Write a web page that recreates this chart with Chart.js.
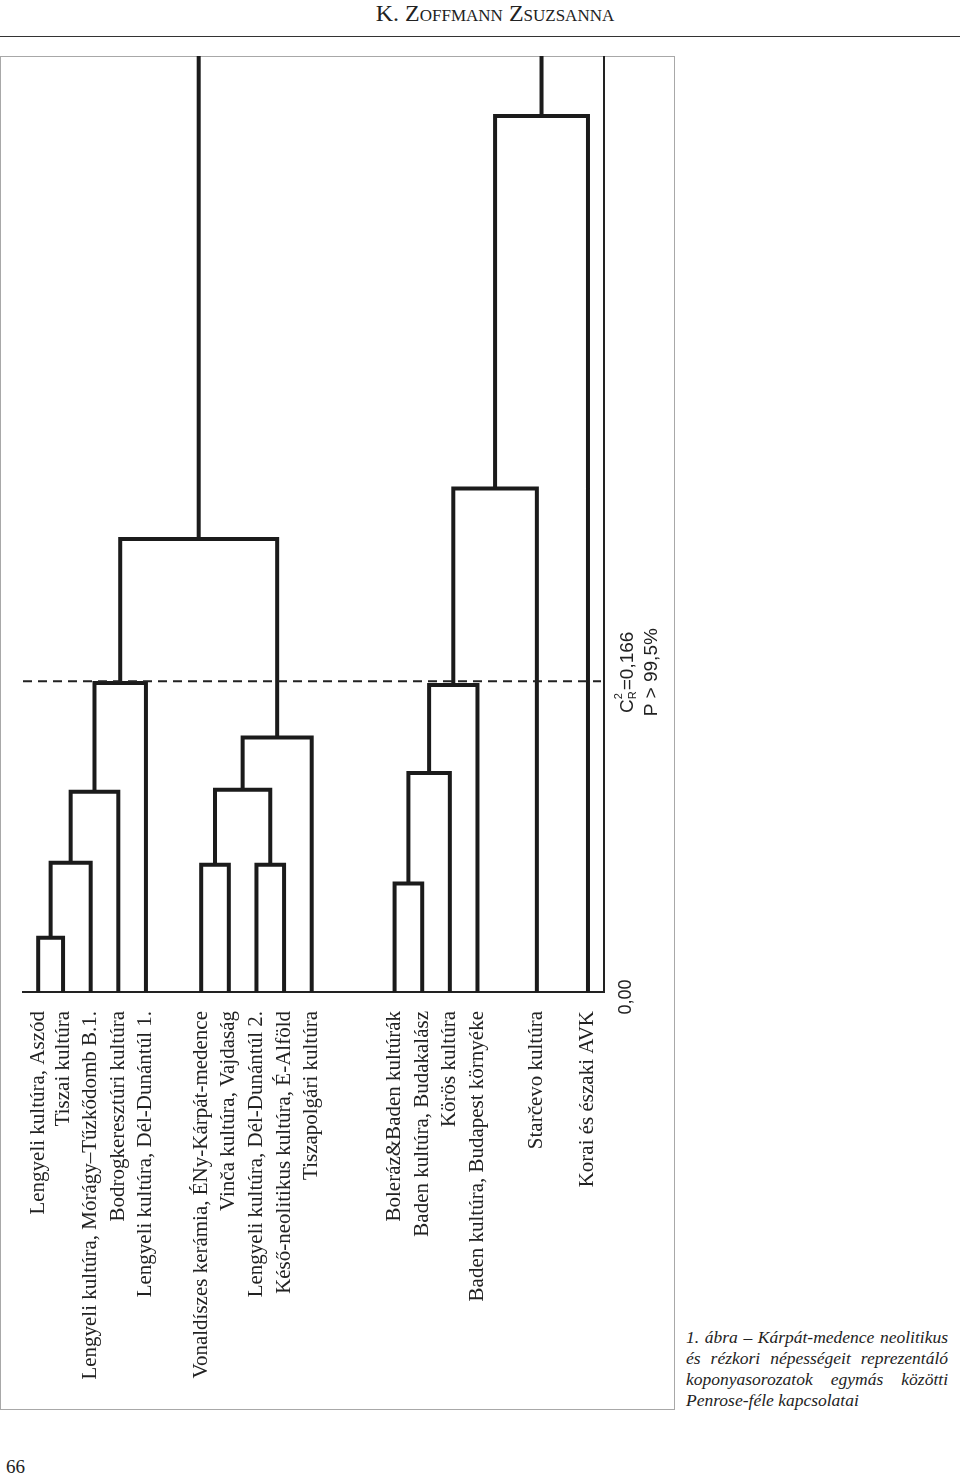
<!DOCTYPE html>
<html>
<head>
<meta charset="utf-8">
<script src="https://cdn.jsdelivr.net/npm/chart.js@4"></script>
<style>
  body { margin: 0; background: #fff; width: 960px; height: 1479px; position: relative; overflow: hidden;
         font-family: "Liberation Serif", serif; color: #222; }
  #header { position: absolute; left: 0; top: 0; width: 990px; text-align: center; font-size: 24px; font-variant: small-caps; }
  #rule { position: absolute; left: 0; top: 36px; width: 960px; border-top: 1.5px solid #333; }
  #frame { position: absolute; left: 0; top: 56px; width: 675px; height: 1354px; box-sizing: border-box; border: 1px solid #a8a8a8; }
  #chartBox { position: absolute; left: 0; top: 56px; width: 675px; height: 1354px; }
  #caption { position: absolute; left: 686px; top: 1327px; width: 262px; font-style: italic; font-size: 17.5px; line-height: 21px; }
  #caption .j { text-align: justify; text-align-last: justify; white-space: nowrap; }
  #pageNo { position: absolute; left: 6px; top: 1456px; font-size: 19px; }
</style>
</head>
<body>
<div id="header">K. Zoffmann Zsuzsanna</div>
<div id="rule"></div>
<div id="frame"></div>
<div id="chartBox"><canvas id="dendro" width="675" height="1354"></canvas></div>
<div id="caption">
  <div class="j">1. ábra – Kárpát-medence neolitikus</div>
  <div class="j">és rézkori népességeit reprezentáló</div>
  <div class="j">koponyasorozatok egymás közötti</div>
  <div>Penrose-féle kapcsolatai</div>
</div>
<div id="pageNo">66</div>
<script>
// leaves, left to right
const leafNames = [
  "Lengyeli kultúra, Aszód",
  "Tiszai kultúra",
  "Lengyeli kultúra, Mórágy–Tűzkődomb B.1.",
  "Bodrogkeresztúri kultúra",
  "Lengyeli kultúra, Dél-Dunántúl 1.",
  "Vonaldíszes kerámia, ÉNy-Kárpát-medence",
  "Vinča kultúra, Vajdaság",
  "Lengyeli kultúra, Dél-Dunántúl 2.",
  "Késő-neolitikus kultúra, É-Alföld",
  "Tiszapolgári kultúra",
  "Boleráz&Baden kultúrák",
  "Baden kultúra, Budakalász",
  "Körös kultúra",
  "Baden kultúra, Budapest környéke",
  "Starčevo kultúra",
  "Korai és északi AVK"
];

// merges: node ids 0-15 are leaves, each merge creates node 16, 17, ...
const mergePairs = [
  [0, 1], [16, 2], [17, 3], [18, 4],
  [5, 6], [7, 8], [20, 21], [22, 9], [19, 23],
  [10, 11], [25, 12], [26, 13], [27, 14], [28, 15],
  [24, 29]
];
const mergeHeights = [
  0.029, 0.069, 0.107, 0.165,
  0.068, 0.068, 0.108, 0.136, 0.242,
  0.058, 0.117, 0.164, 0.269, 0.468,
  0.60
];

const criticalValue = 0.166;
const valueTicks = [0];

// extra space between leaf groups (layout only)
const gapAfter = { 0: -0.1, 4: 1, 9: 2, 13: 1.15, 14: 0.85 };

const nodeX = [];
const nodeH = [];
let slot = 0;
leafNames.forEach((_, i) => {
  nodeX.push(slot);
  nodeH.push(0);
  slot += 1 + (gapAfter[i] || 0);
});
mergePairs.forEach(([a, b], k) => {
  nodeX.push((nodeX[a] + nodeX[b]) / 2);
  nodeH.push(mergeHeights[k]);
});

const ink = '#1b1b1b';

const datasets = mergePairs.map(([a, b], k) => {
  const h = mergeHeights[k];
  return {
    data: [
      { x: nodeX[a], y: nodeH[a] },
      { x: nodeX[a], y: h },
      { x: nodeX[b], y: h },
      { x: nodeX[b], y: nodeH[b] }
    ],
    borderColor: ink,
    borderWidth: 4,
    borderJoinStyle: 'miter',
    pointRadius: 0,
    fill: false,
    tension: 0,
    clip: 0
  };
});

const extras = {
  id: 'extras',
  afterDatasetsDraw(chart) {
    const { ctx, chartArea, scales } = chart;
    const y = scales.y;
    const yc = y.getPixelForValue(criticalValue);

    // critical value line
    ctx.save();
    ctx.strokeStyle = '#222';
    ctx.lineWidth = 2;
    ctx.setLineDash([9, 6]);
    ctx.beginPath();
    ctx.moveTo(chartArea.left, yc);
    ctx.lineTo(chartArea.right - 3, yc);
    ctx.stroke();
    ctx.restore();

    const big = '19px "Liberation Sans"', small = '11px "Liberation Sans"';

    // value tick labels (rotated)
    valueTicks.forEach(v => {
      ctx.save();
      ctx.translate(chartArea.right + 27, y.getPixelForValue(v) + 5);
      ctx.rotate(-Math.PI / 2);
      ctx.font = '18px "Liberation Sans"';
      ctx.fillStyle = '#222';
      ctx.textAlign = 'center';
      ctx.textBaseline = 'alphabetic';
      ctx.fillText(v.toFixed(2).replace('.', ','), 0, 0);
      ctx.restore();
    });

    // C_R^2 = 0,166 and P > 99,5%
    const mid = yc - 9;
    ctx.save();
    ctx.translate(chartArea.right + 29, mid);
    ctx.rotate(-Math.PI / 2);
    ctx.fillStyle = '#222';
    ctx.textBaseline = 'alphabetic';
    ctx.textAlign = 'left';
    const rest = '=' + criticalValue.toFixed(3).replace('.', ',');
    ctx.font = big; const wC = ctx.measureText('C').width; const wRest = ctx.measureText(rest).width;
    ctx.font = small; const wR = ctx.measureText('R').width;
    const sx = -(wC + wR + 1 + wRest) / 2;
    ctx.font = big; ctx.fillText('C', sx, 0);
    ctx.font = small; ctx.fillText('R', sx + wC, 3); ctx.fillText('2', sx + wC, -11);
    ctx.font = big; ctx.fillText(rest, sx + wC + wR + 1, 0);
    ctx.restore();

    ctx.save();
    ctx.translate(chartArea.right + 53, mid);
    ctx.rotate(-Math.PI / 2);
    ctx.fillStyle = '#222';
    ctx.font = big;
    ctx.textAlign = 'center';
    ctx.fillText('P > 99,5%', 0, 0);
    ctx.restore();
  }
};

new Chart(document.getElementById('dendro'), {
  type: 'line',
  data: { datasets },
  plugins: [extras],
  options: {
    responsive: false,
    animation: false,
    devicePixelRatio: 1,
    layout: { padding: { left: 23, right: 71, top: 0, bottom: 0 } },
    plugins: { legend: { display: false }, tooltip: { enabled: false } },
    scales: {
      x: {
        type: 'linear',
        min: -0.55,
        max: 20.48,
        grid: { display: false, drawTicks: false },
        border: { display: true, color: '#222', width: 2 },
        afterBuildTicks: (axis) => {
          axis.ticks = leafNames.map((_, i) => ({ value: nodeX[i] }));
        },
        afterFit: (axis) => { axis.height = 418; },
        ticks: {
          autoSkip: false,
          minRotation: 90,
          maxRotation: 90,
          padding: 19,
          color: '#222',
          font: { family: 'Liberation Serif', size: 21 },
          callback: (v) => {
            const i = nodeX.slice(0, leafNames.length).findIndex(p => Math.abs(p - v) < 1e-6);
            return i >= 0 ? leafNames[i] : '';
          }
        }
      },
      y: {
        type: 'linear',
        position: 'right',
        min: 0,
        max: 0.5,
        grid: { display: false, drawTicks: false },
        border: { display: true, color: '#222', width: 2 },
        ticks: { display: false },
        afterFit: (axis) => { axis.width = 0; }
      }
    }
  }
});
</script>
</body>
</html>
